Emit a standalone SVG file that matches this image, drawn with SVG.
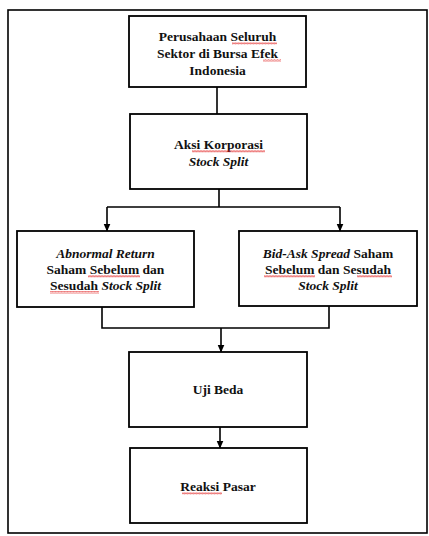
<svg xmlns="http://www.w3.org/2000/svg" width="429" height="536" viewBox="0 0 429 536">
<style>
.box{fill:#fff;stroke:#000;stroke-width:1.8}
.t{font-family:'Liberation Serif','DejaVu Serif',serif;font-size:13.5px;font-weight:bold;fill:#111;text-anchor:middle}
.i{font-style:italic}
.c{fill:none;stroke:#000;stroke-width:1.6}
.w{fill:url(#wave)}
</style>
<defs>
<marker id="ah" markerWidth="8" markerHeight="8" refX="7.5" refY="4" orient="auto" markerUnits="userSpaceOnUse" viewBox="0 0 8 8">
<path d="M0,0.5 L8,4 L0,7.5 Z" fill="#000"/>
</marker>
<pattern id="wave" width="3" height="2.5" patternUnits="userSpaceOnUse">
<path d="M0,2 L0.75,0.5 L1.5,2 L2.25,0.5 L3,2" fill="none" stroke="#e02020" stroke-width="0.6"/>
</pattern>
</defs>
<rect x="0" y="0" width="429" height="536" fill="#fff"/>
<rect x="8" y="10" width="419" height="523" fill="none" stroke="#000" stroke-width="1.6"/>
<g id="connectors">
<line class="c" x1="217" y1="87" x2="217" y2="114"/>
<path class="c" d="M219,189 V207 M107,207 H340"/>
<path class="c" d="M107,207 V231" marker-end="url(#ah)"/>
<path class="c" d="M340,207 V231" marker-end="url(#ah)"/>
<path class="c" d="M102,307 V328 H329 V306"/>
<path class="c" d="M221,328 V352" marker-end="url(#ah)"/>
<path class="c" d="M220,427 V448" marker-end="url(#ah)"/>
</g>
<g id="node1">
<rect class="box" x="129" y="16" width="177" height="71"/>
<text class="t" x="217.5" y="41" font-family="Liberation Serif, serif">Perusahaan Seluruh</text>
<text class="t" x="217.5" y="58" font-family="Liberation Serif, serif">Sektor di Bursa Efek</text>
<text class="t" x="217.5" y="75" font-family="Liberation Serif, serif">Indonesia</text>
<rect class="w" x="232" y="42" width="45" height="2.5"/>
<rect class="w" x="263" y="59" width="18" height="2.5"/>
</g>
<g id="node2">
<rect class="box" x="130" y="114" width="177" height="75"/>
<text class="t" x="218.5" y="149" font-family="Liberation Serif, serif">Aksi Korporasi</text>
<text class="t i" x="218.5" y="166" font-family="Liberation Serif, serif">Stock Split</text>
<rect class="w" x="192" y="150" width="73" height="2.5"/>
</g>
<g id="node3">
<rect class="box" x="17" y="231" width="177" height="76"/>
<text class="t i" x="105.5" y="258" font-family="Liberation Serif, serif">Abnormal Return</text>
<text class="t" x="105.5" y="274" font-family="Liberation Serif, serif">Saham Sebelum dan</text>
<text class="t" x="105.5" y="290" font-family="Liberation Serif, serif">Sesudah <tspan class="i">Stock Split</tspan></text>
<rect class="w" x="88" y="275" width="52" height="2.5"/>
<rect class="w" x="50" y="291" width="49" height="2.5"/>
</g>
<g id="node4">
<rect class="box" x="239" y="231" width="178" height="75"/>
<text class="t" x="328" y="258" font-family="Liberation Serif, serif"><tspan class="i">Bid-Ask Spread</tspan> Saham</text>
<text class="t" x="328" y="274" font-family="Liberation Serif, serif">Sebelum dan Sesudah</text>
<text class="t i" x="328" y="290" font-family="Liberation Serif, serif">Stock Split</text>
<rect class="w" x="264" y="275" width="51" height="2.5"/>
<rect class="w" x="357" y="275" width="35" height="2.5"/>
</g>
<g id="node5">
<rect class="box" x="129" y="352" width="178" height="75"/>
<text class="t" x="218" y="394" font-family="Liberation Serif, serif">Uji Beda</text>
</g>
<g id="node6">
<rect class="box" x="130" y="448" width="177" height="75"/>
<text class="t" x="218" y="491" font-family="Liberation Serif, serif">Reaksi Pasar</text>
<rect class="w" x="182" y="492" width="40" height="2.5"/>
</g>
</svg>
